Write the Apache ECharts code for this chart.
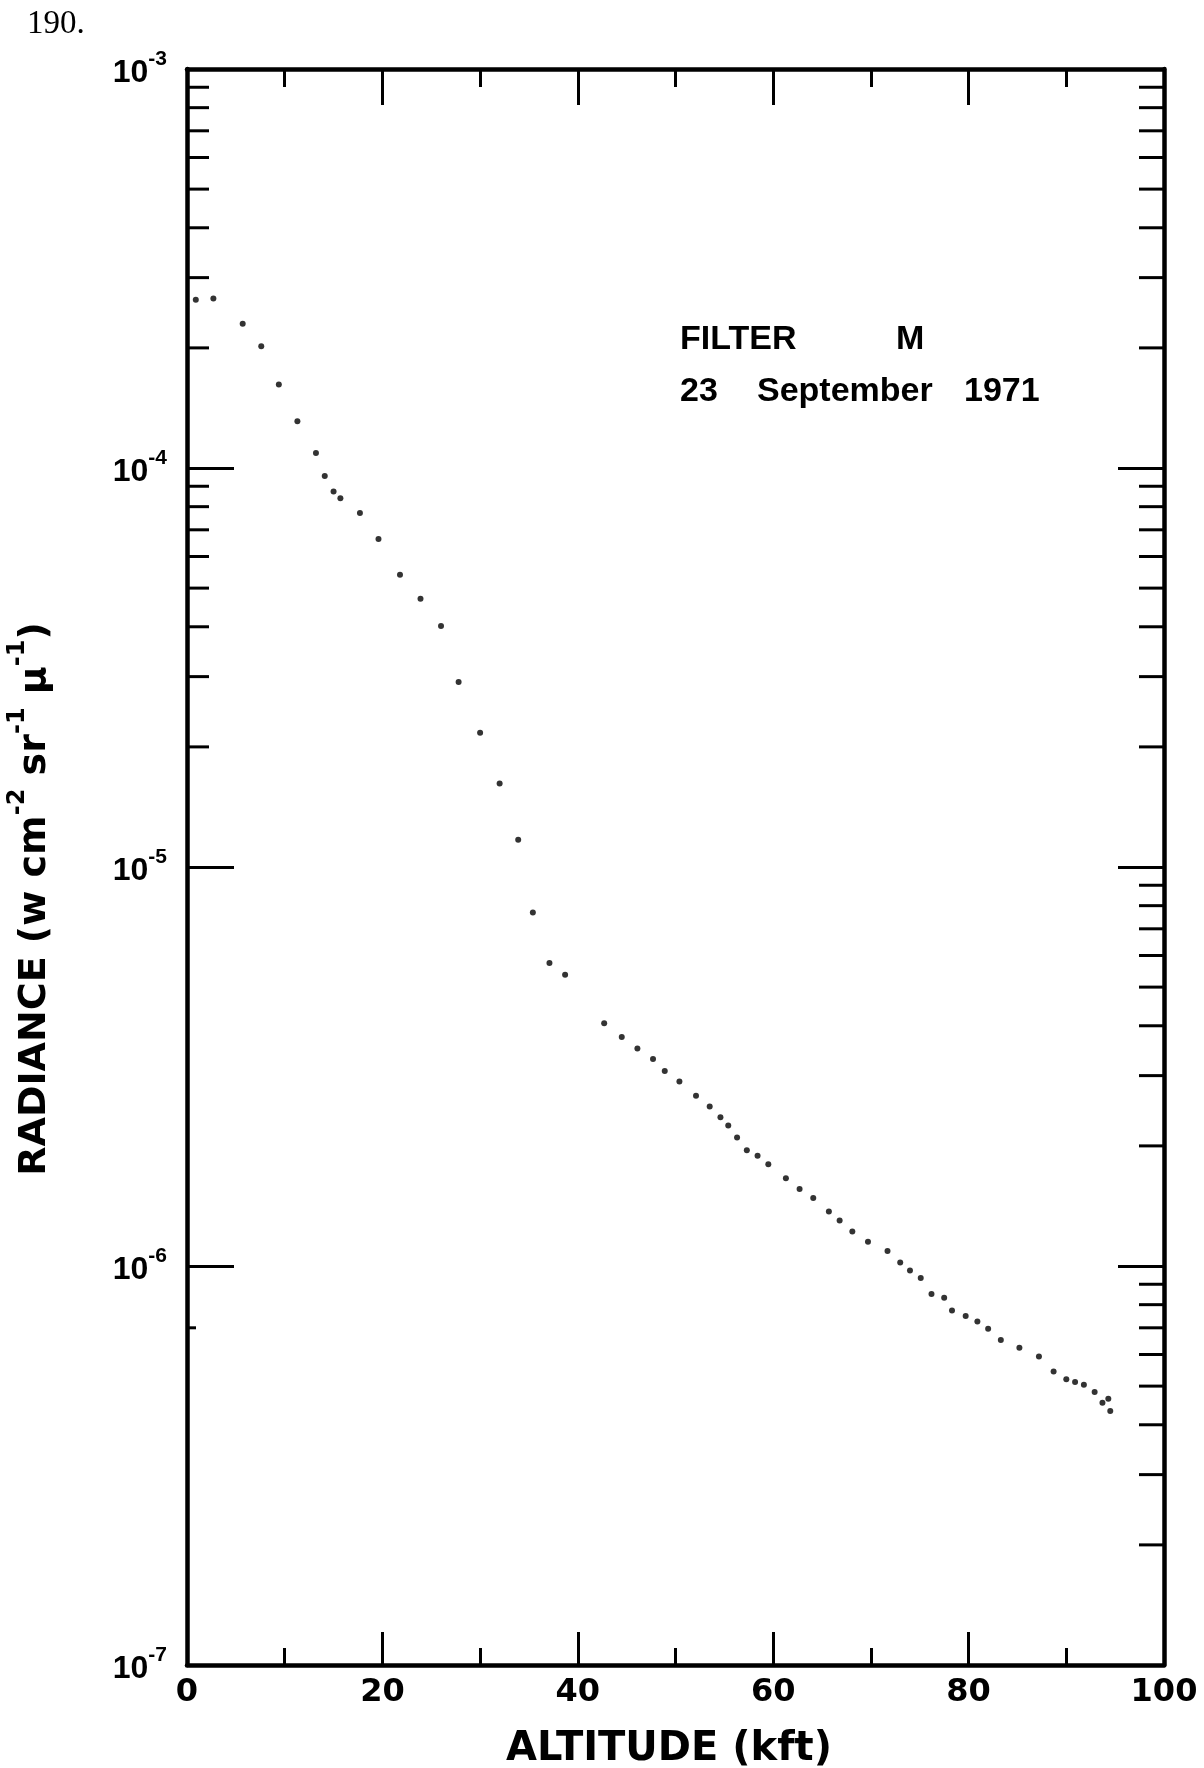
<!DOCTYPE html>
<html>
<head>
<meta charset="utf-8">
<script src="https://cdn.jsdelivr.net/npm/echarts@6/dist/echarts.min.js"></script>
<style>
html,body{margin:0;padding:0;background:#fff;}
#chart{width:1204px;height:1768px;}
</style>
</head>
<body>
<div id="chart"></div>
<script>
// Altitude (kft) of each measured point
const altitude = [0.9, 2.7, 5.7, 7.6, 9.4, 11.3, 13.2, 14.1, 15.0, 15.7, 17.7, 19.6, 21.8, 23.9, 26.0, 27.8,
  30.0, 32.0, 33.9, 35.4, 37.1, 38.7, 42.7, 44.5, 46.1, 47.7, 48.9, 50.4, 52.1, 53.5, 54.6, 55.4, 56.3,
  57.3, 58.4, 59.5, 61.3, 62.7, 64.1, 65.7, 66.8, 68.1, 69.7, 71.7, 73.0, 74.0, 75.1, 76.2, 77.5, 78.3,
  79.7, 80.9, 82.0, 83.3, 85.2, 87.2, 88.7, 90.0, 90.9, 91.8, 92.9, 93.7, 94.3, 94.5];
// Radiance (w cm^-2 sr^-1 mu^-1)
const radiance = [2.64e-4, 2.66e-4, 2.30e-4, 2.02e-4, 1.62e-4, 1.31e-4, 1.09e-4, 9.55e-5, 8.73e-5, 8.40e-5,
  7.71e-5, 6.64e-5, 5.40e-5, 4.70e-5, 4.02e-5, 2.91e-5, 2.17e-5, 1.62e-5, 1.17e-5, 7.69e-6, 5.75e-6, 5.37e-6,
  4.06e-6, 3.75e-6, 3.51e-6, 3.30e-6, 3.08e-6, 2.90e-6, 2.67e-6, 2.51e-6, 2.36e-6, 2.25e-6, 2.10e-6, 1.95e-6,
  1.89e-6, 1.80e-6, 1.66e-6, 1.56e-6, 1.48e-6, 1.37e-6, 1.30e-6, 1.22e-6, 1.15e-6, 1.09e-6, 1.02e-6, 9.74e-7,
  9.33e-7, 8.51e-7, 8.32e-7, 7.73e-7, 7.49e-7, 7.26e-7, 6.96e-7, 6.52e-7, 6.24e-7, 5.93e-7, 5.44e-7, 5.20e-7,
  5.12e-7, 5.04e-7, 4.83e-7, 4.54e-7, 4.65e-7, 4.33e-7];

// Axis ticks / labels
const xTickLabels = [0, 20, 40, 60, 80, 100];
const yDecadeExponents = [-7, -6, -5, -4, -3];
const yMinorMultipliers = [2, 3, 4, 5, 6, 7, 8, 9];
const leftMinorDecades = [1e-5, 1e-4];          // left frame has minor ticks only in upper two decades
const rightMinorDecades = [1e-7, 1e-6, 1e-5, 1e-4];
const leftStubTicks = [7e-7];                     // short remnant mark on the left frame
const leftMinorTicks = [];
leftMinorDecades.forEach(d => yMinorMultipliers.forEach(m => leftMinorTicks.push(m * d)));
const rightMinorTicks = [];
rightMinorDecades.forEach(d => yMinorMultipliers.forEach(m => rightMinorTicks.push(m * d)));

const pageNumber = '190.';
const annotationLine1 = ['FILTER', 'M'];
const annotationLine2 = ['23', 'September', '1971'];
const xTitle = 'ALTITUDE (kft)';

const BLACK = '#000';
const FONT = 'DejaVu Sans';

const chart = echarts.init(document.getElementById('chart'), null, {renderer: 'canvas'});

function xAxisCfg(pos, major, minor, showLabel) {
  return {
    type: 'value', position: pos, min: 0, max: 100, interval: 20,
    axisLine: {show: true, onZero: false, lineStyle: {color: BLACK, width: 4.5}},
    axisTick: {show: true, inside: true, length: major, lineStyle: {color: BLACK, width: 3}},
    minorTick: {show: true, splitNumber: 2, length: minor, lineStyle: {color: BLACK, width: 3}},
    splitLine: {show: false}, minorSplitLine: {show: false},
    axisLabel: {
      show: showLabel, margin: 12, color: BLACK, fontFamily: FONT, fontWeight: 'bold', fontSize: 32,
      formatter: v => (xTickLabels.indexOf(v) >= 0 ? String(v) : '')
    }
  };
}
function yAxisCfg(pos, major, showLabel) {
  return {
    type: 'log', logBase: 10, position: pos, min: 1e-7, max: 1e-3, splitNumber: 4,
    axisLine: {show: true, onZero: false, lineStyle: {color: BLACK, width: 4.5}},
    axisTick: {show: true, inside: true, length: major, lineStyle: {color: BLACK, width: 3}},
    splitLine: {show: false},
    axisLabel: {
      show: showLabel, margin: 20, color: BLACK,
      formatter: v => {
        const e = Math.round(Math.log10(v));
        return yDecadeExponents.indexOf(e) >= 0 ? '{b|10}{s|' + e + '}' : '';
      },
      rich: {
        b: {fontFamily: 'Liberation Sans', fontWeight: 'bold', fontSize: 32, lineHeight: 40, verticalAlign: 'bottom', color: BLACK},
        s: {fontFamily: 'Liberation Sans', fontWeight: 'bold', fontSize: 21, lineHeight: 22, verticalAlign: 'top', color: BLACK}
      }
    }
  };
}

function tickSeries(values, side, len) {
  return {
    type: 'custom', xAxisIndex: 0, yAxisIndex: 0, silent: true, clip: false, z: 3,
    data: values.map(v => [side === 'left' ? 0 : 100, v]),
    encode: {x: 0, y: 1},
    renderItem: (params, api) => {
      const p = api.coord([api.value(0), api.value(1)]);
      const x2 = side === 'left' ? p[0] + len : p[0] - len;
      return {type: 'line', shape: {x1: p[0], y1: p[1], x2: x2, y2: p[1]}, style: {stroke: BLACK, lineWidth: 3}};
    }
  };
}

const textStyle = (text, font, align) => ({
  text: text, font: font, fill: BLACK,
  textAlign: align, textVerticalAlign: 'middle', align: align, verticalAlign: 'middle'
});
const ANNOT_FONT = 'bold 34px "Liberation Sans"';

const option = {
  backgroundColor: '#fff',
  animation: false,
  grid: {left: 187, top: 69, width: 977, height: 1596, containLabel: false, outerBoundsMode: 'none'},
  xAxis: [xAxisCfg('bottom', 33, 17, true), xAxisCfg('top', 36, 18, false)],
  yAxis: [yAxisCfg('left', 47, true), yAxisCfg('right', 46, false)],
  series: [
    tickSeries(leftMinorTicks, 'left', 22),
    tickSeries(leftStubTicks, 'left', 9),
    tickSeries(rightMinorTicks, 'right', 25),
    {
      type: 'scatter', xAxisIndex: 0, yAxisIndex: 0, symbol: 'circle', symbolSize: 6,
      itemStyle: {color: BLACK}, silent: true, z: 4,
      data: altitude.map((a, i) => [a, radiance[i]])
    }
  ],
  graphic: [
    {type: 'text', x: 27, y: 24, style: textStyle(pageNumber, '33px "Liberation Serif"', 'left')},
    {type: 'text', x: 680, y: 340, style: textStyle(annotationLine1[0], ANNOT_FONT, 'left')},
    {type: 'text', x: 896, y: 340, style: textStyle(annotationLine1[1], ANNOT_FONT, 'left')},
    {type: 'text', x: 680, y: 392, style: textStyle(annotationLine2[0], ANNOT_FONT, 'left')},
    {type: 'text', x: 757, y: 392, style: textStyle(annotationLine2[1], ANNOT_FONT, 'left')},
    {type: 'text', x: 964, y: 392, style: textStyle(annotationLine2[2], ANNOT_FONT, 'left')},
    {type: 'text', x: 669, y: 1750, style: textStyle(xTitle, 'bold 40px "DejaVu Sans"', 'center')},
    {type: 'text', x: 30, y: 899, rotation: Math.PI / 2,
      style: {
        text: '{b|RADIANCE (w cm}{s|-2}{b| sr}{s|-1}{b| μ}{s|-1}{b|)}',
        fill: BLACK, textAlign: 'center', textVerticalAlign: 'middle', align: 'center', verticalAlign: 'middle',
        rich: {
          b: {fontFamily: FONT, fontWeight: 'bold', fontSize: 38, lineHeight: 48, verticalAlign: 'bottom', fill: BLACK, color: BLACK},
          s: {fontFamily: FONT, fontWeight: 'bold', fontSize: 24, lineHeight: 26, verticalAlign: 'top', fill: BLACK, color: BLACK}
        }
      }
    }
  ]
};
chart.setOption(option);
</script>
</body>
</html>
